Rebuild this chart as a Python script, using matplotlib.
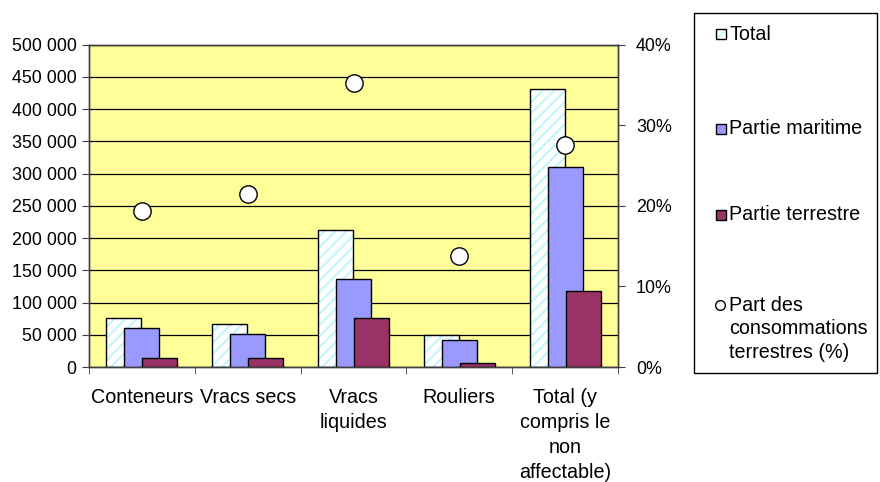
import numpy as np
import matplotlib
matplotlib.use("Agg")
import matplotlib.pyplot as plt
import matplotlib.patches as patches
from matplotlib.lines import Line2D
from matplotlib.ticker import FuncFormatter, MultipleLocator

plt.rcParams['font.family'] = ['Liberation Sans', 'DejaVu Sans']
plt.rcParams['hatch.linewidth'] = 1.6

# Consommations par filière (valeurs absolues) et part terrestre (%)
categories = ["Conteneurs", "Vracs secs", "Vracs\nliquides", "Rouliers",
              "Total (y\ncompris le\nnon\naffectable)"]
total = [75600, 67400, 213000, 49000, 430500]
maritime = [61200, 51300, 137000, 41200, 310500]
terrestre = [14000, 14000, 76000, 5800, 117600]
part_terrestre = [19.4, 21.5, 35.3, 13.8, 27.6]

series_labels = ["Total", "Partie maritime", "Partie terrestre",
                 "Part des\nconsommations\nterrestres (%)"]

BG = '#FFFF99'
HATCH = '#C4F6FB'
MARITIME = '#9999FF'
TERRESTRE = '#993366'
FS = 14.2       # étiquettes des catégories et légende
FS_TICK = 12.9  # graduations des axes

W, H = 880, 482
fig = plt.figure(figsize=(W / 100, H / 100), dpi=100)


def fig_xy(px, py):
    return px / W, 1 - py / H


ax = fig.add_axes([89 / W, 1 - 367 / H, (618 - 89) / W, (367 - 44.7) / H])
ax.set_facecolor(BG)

x = np.arange(len(categories))
bw = 0.33
off = 0.17

# Total: hatched fill, then black outline on top
ax.bar(x - off, total, bw, color='white', edgecolor=HATCH, hatch='///', linewidth=0, zorder=2)
ax.bar(x - off, total, bw, fill=False, edgecolor='black', linewidth=1, zorder=2)
ax.bar(x, maritime, bw, color=MARITIME, edgecolor='black', linewidth=1, zorder=3)
ax.bar(x + off, terrestre, bw, color=TERRESTRE, edgecolor='black', linewidth=1, zorder=4)

ax.set_xlim(-0.5, len(categories) - 0.5)
ax.set_ylim(0, 500000)
ax.yaxis.set_major_locator(MultipleLocator(50000))
ax.yaxis.set_major_formatter(FuncFormatter(lambda v, p: f"{int(v):,}".replace(",", " ")))
ax.grid(axis='y', color='black', linewidth=0.9)
ax.set_axisbelow(True)

ax.set_xticks(x)
ax.set_xticklabels(categories, fontsize=FS, linespacing=1.4)
ax.set_xticks(np.arange(-0.5, len(categories)), minor=True)
ax.tick_params(axis='x', which='major', length=0, pad=15)
ax.tick_params(axis='x', which='minor', length=5, direction='out', color='#404040')
ax.tick_params(axis='y', length=5, direction='out', labelsize=FS_TICK, pad=4, color='#404040')

for s in ax.spines.values():
    s.set_color('#404040')
    s.set_linewidth(1)

# Part terrestre sur l'axe secondaire
ax2 = ax.twinx()
ax2.plot(x, part_terrestre, linestyle='none', marker='o', markersize=12.5,
         markerfacecolor='white', markeredgecolor='black', markeredgewidth=1, zorder=5)
ax2.set_ylim(0, 40)
ax2.yaxis.set_major_locator(MultipleLocator(10))
ax2.yaxis.set_major_formatter(FuncFormatter(lambda v, p: f"{int(v)}%"))
ax2.tick_params(axis='y', length=5, direction='out', labelsize=FS_TICK, pad=8, color='#404040')
for s in ax2.spines.values():
    s.set_color('#404040')
    s.set_linewidth(1)

# Légende dessinée à la main, à droite du graphique
x0, y0 = fig_xy(694, 373)
x1, y1 = fig_xy(877, 13)
fig.add_artist(patches.Rectangle((x0, y0), x1 - x0, y1 - y0, transform=fig.transFigure,
                                 fill=False, edgecolor='black', linewidth=1))

entry_y = [34, 129, 215]
face = ['white', MARITIME, TERRESTRE]
for i, ey in enumerate(entry_y):
    rx, ry = fig_xy(716, ey + 5)
    rw, rh = 10 / W, 10 / H
    if i == 0:
        fig.add_artist(patches.Rectangle((rx, ry), rw, rh, transform=fig.transFigure,
                                         facecolor='white', edgecolor=HATCH, hatch='///',
                                         linewidth=0))
        fig.add_artist(patches.Rectangle((rx, ry), rw, rh, transform=fig.transFigure,
                                         fill=False, edgecolor='black', linewidth=1))
    else:
        fig.add_artist(patches.Rectangle((rx, ry), rw, rh, transform=fig.transFigure,
                                         facecolor=face[i], edgecolor='black', linewidth=1))
    tx, ty = fig_xy(729, ey)
    fig.text(tx, ty, series_labels[i], fontsize=FS, va='center', ha='left')

mx, my = fig_xy(720, 305)
fig.add_artist(Line2D([mx], [my], transform=fig.transFigure, marker='o', markersize=7,
                      markerfacecolor='white', markeredgecolor='black', markeredgewidth=1))
tx, ty = fig_xy(729, 296)
fig.text(tx, ty, series_labels[3], fontsize=FS, va='top', ha='left', linespacing=1.3)

fig.savefig("out.png", dpi=100)
